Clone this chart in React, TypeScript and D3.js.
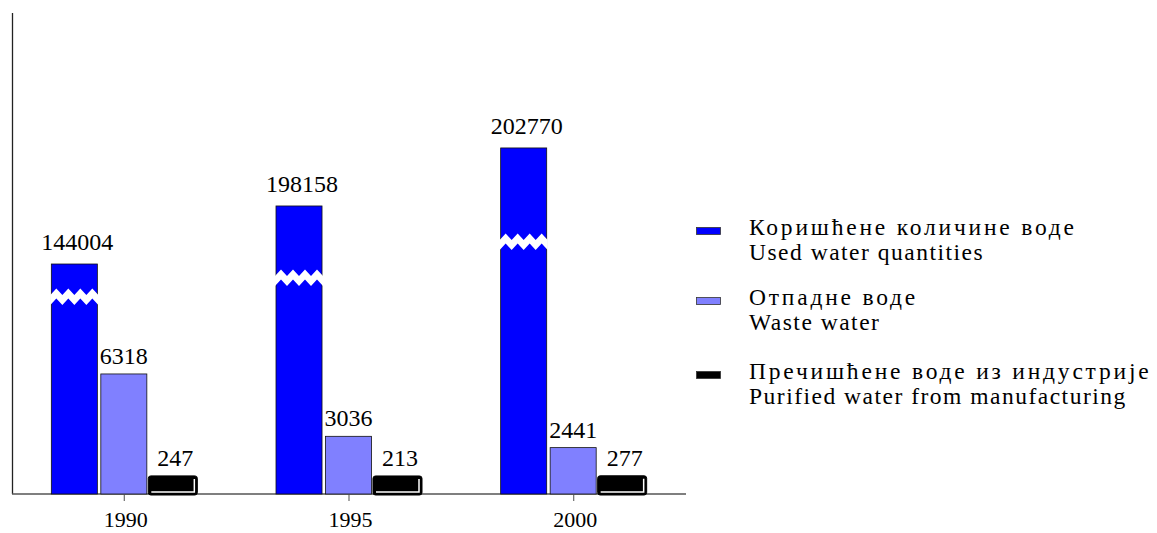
import React from "react";
import * as d3 from "d3";

const years = ["1990", "1995", "2000"];
const usedWater = [144004, 198158, 202770];
const wasteWater = [6318, 3036, 2441];
const purifiedWater = [247, 213, 277];
const seriesLabelsSr = ["Коришћене количине воде", "Отпадне воде", "Пречишћене воде из индустрије"];
const seriesLabelsEn = ["Used water quantities", "Waste water", "Purified water from manufacturing"];
const seriesColors = ["#0000FF", "#8080FF", "#000000"];

// broken (non-uniform) value axis, as in the original
const yDomain = [0, 200, 1000, 6500, 140000, 200000, 203000];
const yRange = [494, 477, 475, 370.5, 268.3, 204, 143.3];
const breakOffsets = [33, 72, 94];

const W = 1157;
const H = 533;
const FONT = "'Liberation Serif', 'Times New Roman', serif";

export default function App() {
  const x = d3.scaleBand<string>().domain(years).range([12, 686]);
  const y = d3.scaleLinear().domain(yDomain).range(yRange);
  const keys = ["used", "waste", "purified"];
  const series = [usedWater, wasteWater, purifiedWater];
  const xs = d3.scaleBand<string>().domain(keys).range([-73, 72]).paddingInner(0.07);
  const baseY = y(0);

  const zig = (x0: number, x1: number, cy: number) => {
    const pts: [number, number][] = [];
    const step = 6;
    let i = 0;
    for (let xx = x0; xx <= x1 + 0.01; xx += step, i++) {
      pts.push([xx, cy + (i % 2 === 0 ? 3 : -3.5)]);
    }
    const top = pts.map(([a, b]) => [a, b - 5] as [number, number]);
    const bot = pts.map(([a, b]) => [a, b + 5] as [number, number]).reverse();
    return d3.line()([...top, ...bot]) + "Z";
  };

  return (
    <svg width={W} height={H} style={{ position: "absolute", left: 0, top: 0, background: "#fff" }} fontFamily={FONT}>
      {/* axes */}
      <line x1={12.5} y1={13} x2={12.5} y2={494} stroke="#222" strokeWidth={1.3} />
      <line x1={12} y1={494} x2={686} y2={494} stroke="#555" strokeWidth={1.3} />
      {years.map((yr) => {
        const cx = (x(yr) as number) + x.bandwidth() / 2;
        return (
          <g key={yr}>
            <line x1={cx} x2={cx} y1={494} y2={501} stroke="#777" strokeWidth={1.3} />
            <text x={cx + 1.5} y={527} textAnchor="middle" fontSize={22} fill="#000">{yr}</text>
          </g>
        );
      })}

      {/* bars */}
      {years.map((yr, gi) => {
        const cx = (x(yr) as number) + x.bandwidth() / 2;
        return (
          <g key={yr}>
            {keys.map((k, si) => {
              const v = series[si][gi];
              const bx = cx + (xs(k) as number);
              const bw = xs.bandwidth();
              const by = y(v);
              const bh = baseY - by;
              if (si === 2) {
                return (
                  <g key={k}>
                    <rect x={bx - 2} y={by - 1} width={bw + 3} height={bh + 2} rx={2.5} fill="#000" stroke="#000" strokeWidth={1} />
                    <path d={`M${bx + 1},${by + bh - 2} H${bx + bw - 2} V${by + 2}`} fill="none" stroke="#fff" strokeWidth={1.5} />
                    <text x={bx + bw / 2 + 2} y={by - 11} textAnchor="middle" fontSize={24} fill="#000">{v}</text>
                  </g>
                );
              }
              return (
                <g key={k}>
                  <rect x={bx} y={by} width={bw} height={bh} fill={seriesColors[si]} stroke="#111" strokeWidth={0.8} />
                  {si === 0 && (
                    <path d={zig(bx - 1, bx + bw + 5, by + breakOffsets[gi])} fill="#fff" stroke="none" />
                  )}
                  <text x={bx + bw / 2 + (si === 0 ? 3 : 0)} y={by - (si === 0 ? 14 : 10)} textAnchor="middle" fontSize={24} fill="#000">{v}</text>
                </g>
              );
            })}
          </g>
        );
      })}

      {/* legend */}
      {[235, 305, 379].map((base, i) => (
        <g key={i}>
          <rect x={696.5} y={base - 7.5} width={24} height={7} fill={seriesColors[i]} stroke="#333" strokeWidth={0.8} />
          <text x={749} y={base} fontSize={23.5} letterSpacing={2.8} fill="#000">{seriesLabelsSr[i]}</text>
          <text x={749} y={base + 24.5} fontSize={23.5} letterSpacing={1.5} fill="#000">{seriesLabelsEn[i]}</text>
        </g>
      ))}
    </svg>
  );
}
